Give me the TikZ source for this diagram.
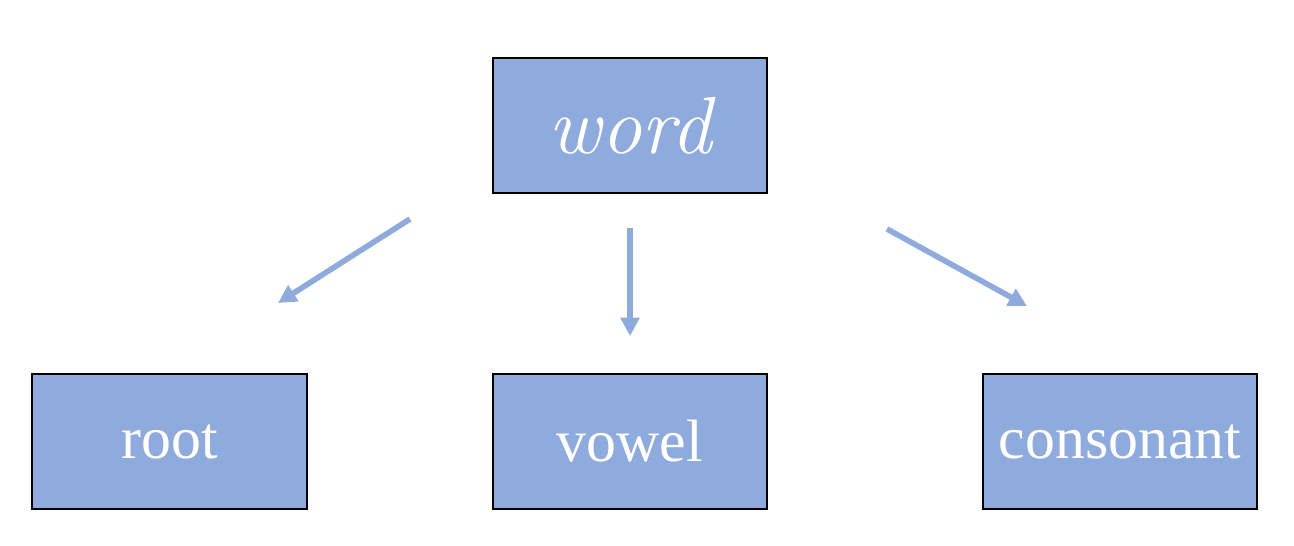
\documentclass[tikz,border=0pt]{standalone}
\usepackage{fontspec}
\setmainfont{Liberation Serif}
\usetikzlibrary{arrows.meta, positioning}
\definecolor{boxblue}{HTML}{8FAADC}

\begin{document}
\begin{tikzpicture}[x=0.01cm, y=-0.01cm]
                        \tikzset{
                            wbox/.style={draw=black, line width=0.6pt, fill=boxblue, minimum width=2.74cm, minimum height=1.35cm, inner sep=0pt, text=white, font=\fontsize{17}{20}\selectfont},
                            warrow/.style={draw=boxblue, line width=1.6pt, -{Triangle[width=5.2pt,length=5.2pt]}}
                        }
                        \useasboundingbox (0, 0) rectangle (1294, 545);
                        \node[wbox, font=\fontsize{23}{27}\fontspec{Latin Modern Roman}\itshape] (word) at (630, 125.5) {word};
                        \node[wbox] (root) at (169.5, 441.5) {root};
                        \node[wbox] (vowel) at (630, 441.5) {vowel};
                        \node[wbox] (consonant) at (1120, 441.5) {consonant};

                        \coordinate (l0) at (410, 219);
                        \coordinate (l1) at (278, 303);
                        \coordinate (m0) at (630, 228);
                        \coordinate (m1) at (630, 336);
                        \coordinate (r0) at (887, 229);
                        \coordinate (r1) at (1027, 306);

                        \draw
                        (l0) edge[warrow] (l1)
                        (m0) edge[warrow] (m1)
                        (r0) edge[warrow] (r1);
                    \end{tikzpicture}
\end{document}
